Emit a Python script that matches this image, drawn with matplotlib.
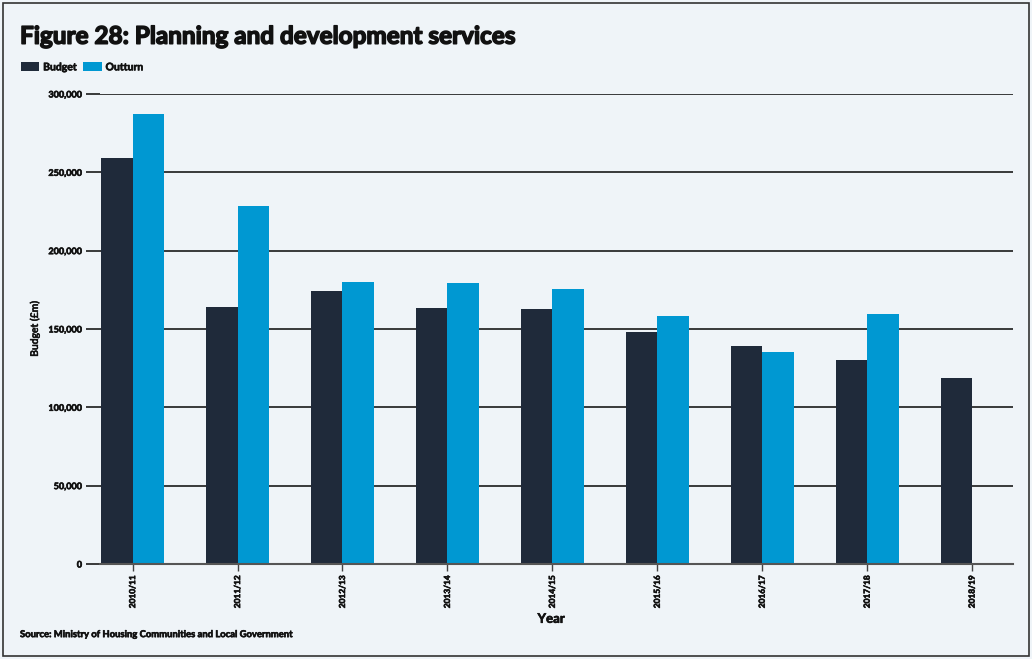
import matplotlib
matplotlib.use("Agg")
import matplotlib.pyplot as plt
import matplotlib.patheffects as pe
from matplotlib.patches import Rectangle
from matplotlib.ticker import FuncFormatter
import numpy as np

# Planning and development services, budget vs outturn (£m)
years = ["2010/11", "2011/12", "2012/13", "2013/14", "2014/15",
         "2015/16", "2016/17", "2017/18", "2018/19"]
budget = [259000, 164000, 174300, 163400, 162800, 148000, 139200, 130000, 118900]
outturn = [287000, 228500, 180000, 179500, 175600, 158500, 135300, 159400, np.nan]

navy = "#1f2a3a"
blue = "#0098d2"
bg = "#eff4f8"
ink = "#111111"

plt.rcParams["font.family"] = ["Lato", "DejaVu Sans"]
plt.rcParams["font.weight"] = "bold"

# small stroke to make the bold text look heavier
heavy = [pe.withStroke(linewidth=0.45, foreground=ink)]

fig = plt.figure(figsize=(10.32, 6.59), dpi=100, facecolor=bg)
ax = fig.add_axes([0.097, 0.1442, 0.8846, 0.7132])
ax.set_facecolor(bg)

x = np.arange(len(years))
w = 0.3
ax.bar(x - w / 2, budget, w, color=navy, label="Budget", zorder=3)
ax.bar(x + w / 2, outturn, w, color=blue, label="Outturn", zorder=3)

ax.set_xlim(-0.31, 8.39)
ax.set_ylim(0, 300000)
ax.set_yticks(np.arange(0, 300001, 50000))
ax.yaxis.set_major_formatter(FuncFormatter(lambda v, p: f"{int(v):,}"))
ax.set_xticks(x)
ax.set_xticklabels(years, rotation=90)

ax.grid(axis="y", color="#1a1a1a", linewidth=1.2, zorder=1)
ax.tick_params(axis="y", length=10, width=1.2, color="#1a1a1a", pad=3,
               labelsize=6.5, labelcolor=ink)
ax.tick_params(axis="x", length=5, width=1, color="#444444", pad=3,
               labelsize=6.0, labelcolor=ink)
for side in ["left", "right", "top"]:
    ax.spines[side].set_visible(False)
ax.spines["bottom"].set_color("#555555")
ax.spines["bottom"].set_linewidth(1.5)
ax.spines["bottom"].set_zorder(4)

fig.canvas.draw()
for lbl in ax.get_xticklabels() + ax.get_yticklabels():
    lbl.set_path_effects(heavy)

ax.set_ylabel("Budget (£m)", fontsize=7.5, color=ink, path_effects=heavy)
ax.yaxis.set_label_coords(-0.066, 0.5)
fig.text(0.534, 0.061, "Year", fontsize=9.5, ha="center", va="center", color=ink,
         path_effects=heavy)

fig.text(0.0194, 0.945, "Figure 28: Planning and development services",
         fontsize=17.5, va="center", ha="left", color=ink,
         path_effects=[pe.withStroke(linewidth=1.1, foreground=ink)])
fig.text(0.0194, 0.037, "Source: Ministry of Housing Communities and Local Government",
         fontsize=6.8, va="center", ha="left", color=ink, path_effects=heavy)

leg = fig.legend(loc="center left", bbox_to_anchor=(0.011, 0.898), ncol=2,
                 frameon=False, handlelength=1.8, handleheight=1.0,
                 handletextpad=0.35, columnspacing=0.6,
                 prop={"weight": "bold", "size": 7.5})
for t in leg.get_texts():
    t.set_color(ink)
    t.set_path_effects(heavy)

fig.patches.append(Rectangle((0.003, 0.005), 0.994, 0.99, transform=fig.transFigure,
                             fill=False, edgecolor="#333333", linewidth=1.2))

plt.savefig("out.png", dpi=100, facecolor=bg)
